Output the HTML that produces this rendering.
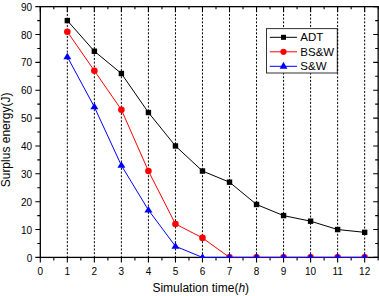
<!DOCTYPE html>
<html><head><meta charset="utf-8"><style>
html,body{margin:0;padding:0;background:#fff;width:379px;height:296px;overflow:hidden}
svg{display:block;font-family:"Liberation Sans",sans-serif}
</style></head><body>
<svg width="379" height="296" viewBox="0 0 379 296">
<rect width="379" height="296" fill="#fff"/>
<line x1="67.33" y1="6.66" x2="67.33" y2="257.40" stroke="#000" stroke-width="1" stroke-dasharray="2 1.664"/>
<line x1="94.36" y1="6.66" x2="94.36" y2="257.40" stroke="#000" stroke-width="1" stroke-dasharray="2 1.664"/>
<line x1="121.39" y1="6.66" x2="121.39" y2="257.40" stroke="#000" stroke-width="1" stroke-dasharray="2 1.664"/>
<line x1="148.42" y1="6.66" x2="148.42" y2="257.40" stroke="#000" stroke-width="1" stroke-dasharray="2 1.664"/>
<line x1="175.45" y1="6.66" x2="175.45" y2="257.40" stroke="#000" stroke-width="1" stroke-dasharray="2 1.664"/>
<line x1="202.48" y1="6.66" x2="202.48" y2="257.40" stroke="#000" stroke-width="1" stroke-dasharray="2 1.664"/>
<line x1="229.51" y1="6.66" x2="229.51" y2="257.40" stroke="#000" stroke-width="1" stroke-dasharray="2 1.664"/>
<line x1="256.54" y1="6.66" x2="256.54" y2="257.40" stroke="#000" stroke-width="1" stroke-dasharray="2 1.664"/>
<line x1="283.57" y1="6.66" x2="283.57" y2="257.40" stroke="#000" stroke-width="1" stroke-dasharray="2 1.664"/>
<line x1="310.60" y1="6.66" x2="310.60" y2="257.40" stroke="#000" stroke-width="1" stroke-dasharray="2 1.664"/>
<line x1="337.63" y1="6.66" x2="337.63" y2="257.40" stroke="#000" stroke-width="1" stroke-dasharray="2 1.664"/>
<line x1="364.66" y1="6.66" x2="364.66" y2="257.40" stroke="#000" stroke-width="1" stroke-dasharray="2 1.664"/>
<rect x="40.30" y="6.66" width="337.88" height="250.74" fill="none" stroke="#000" stroke-width="1.3"/>
<path d="M40.30 257.40v5M40.30 6.66v5M67.33 257.40v5M67.33 6.66v5M94.36 257.40v5M94.36 6.66v5M121.39 257.40v5M121.39 6.66v5M148.42 257.40v5M148.42 6.66v5M175.45 257.40v5M175.45 6.66v5M202.48 257.40v5M202.48 6.66v5M229.51 257.40v5M229.51 6.66v5M256.54 257.40v5M256.54 6.66v5M283.57 257.40v5M283.57 6.66v5M310.60 257.40v5M310.60 6.66v5M337.63 257.40v5M337.63 6.66v5M364.66 257.40v5M364.66 6.66v5M53.81 257.40v3M53.81 6.66v2.7M80.84 257.40v3M80.84 6.66v2.7M107.88 257.40v3M107.88 6.66v2.7M134.91 257.40v3M134.91 6.66v2.7M161.94 257.40v3M161.94 6.66v2.7M188.97 257.40v3M188.97 6.66v2.7M216.00 257.40v3M216.00 6.66v2.7M243.03 257.40v3M243.03 6.66v2.7M270.06 257.40v3M270.06 6.66v2.7M297.09 257.40v3M297.09 6.66v2.7M324.12 257.40v3M324.12 6.66v2.7M351.15 257.40v3M351.15 6.66v2.7M378.18 257.40v3M378.18 6.66v2.7M40.30 257.40h-5M378.18 257.40h-5M40.30 229.54h-5M378.18 229.54h-5M40.30 201.68h-5M378.18 201.68h-5M40.30 173.82h-5M378.18 173.82h-5M40.30 145.96h-5M378.18 145.96h-5M40.30 118.10h-5M378.18 118.10h-5M40.30 90.24h-5M378.18 90.24h-5M40.30 62.38h-5M378.18 62.38h-5M40.30 34.52h-5M378.18 34.52h-5M40.30 6.66h-5M378.18 6.66h-5M40.30 243.47h-3M378.18 243.47h-3M40.30 215.61h-3M378.18 215.61h-3M40.30 187.75h-3M378.18 187.75h-3M40.30 159.89h-3M378.18 159.89h-3M40.30 132.03h-3M378.18 132.03h-3M40.30 104.17h-3M378.18 104.17h-3M40.30 76.31h-3M378.18 76.31h-3M40.30 48.45h-3M378.18 48.45h-3M40.30 20.59h-3M378.18 20.59h-3" fill="none" stroke="#000" stroke-width="1.1"/>
<clipPath id="c"><rect x="40.30" y="6.66" width="337.88" height="251.34"/></clipPath>
<g clip-path="url(#c)">
<polyline points="67.33,20.59 94.36,51.24 121.39,73.52 148.42,112.53 175.45,145.96 202.48,171.03 229.51,182.18 256.54,204.47 283.57,215.61 310.60,221.18 337.63,229.54 364.66,232.33" fill="none" stroke="#000" stroke-width="1"/>
<rect x="64.63" y="17.89" width="5.4" height="5.4" fill="#000"/>
<rect x="91.66" y="48.54" width="5.4" height="5.4" fill="#000"/>
<rect x="118.69" y="70.82" width="5.4" height="5.4" fill="#000"/>
<rect x="145.72" y="109.83" width="5.4" height="5.4" fill="#000"/>
<rect x="172.75" y="143.26" width="5.4" height="5.4" fill="#000"/>
<rect x="199.78" y="168.33" width="5.4" height="5.4" fill="#000"/>
<rect x="226.81" y="179.48" width="5.4" height="5.4" fill="#000"/>
<rect x="253.84" y="201.77" width="5.4" height="5.4" fill="#000"/>
<rect x="280.87" y="212.91" width="5.4" height="5.4" fill="#000"/>
<rect x="307.90" y="218.48" width="5.4" height="5.4" fill="#000"/>
<rect x="334.93" y="226.84" width="5.4" height="5.4" fill="#000"/>
<rect x="361.96" y="229.63" width="5.4" height="5.4" fill="#000"/>
<polyline points="67.33,31.73 94.36,70.74 121.39,109.74 148.42,171.03 175.45,223.97 202.48,237.90 229.51,257.40 256.54,257.40 283.57,257.40 310.60,257.40 337.63,257.40 364.66,257.40" fill="none" stroke="#f00" stroke-width="1"/>
<circle cx="67.33" cy="31.73" r="3.3" fill="#f00"/>
<circle cx="94.36" cy="70.74" r="3.3" fill="#f00"/>
<circle cx="121.39" cy="109.74" r="3.3" fill="#f00"/>
<circle cx="148.42" cy="171.03" r="3.3" fill="#f00"/>
<circle cx="175.45" cy="223.97" r="3.3" fill="#f00"/>
<circle cx="202.48" cy="237.90" r="3.3" fill="#f00"/>
<circle cx="229.51" cy="257.40" r="3.3" fill="#f00"/>
<circle cx="256.54" cy="257.40" r="3.3" fill="#f00"/>
<circle cx="283.57" cy="257.40" r="3.3" fill="#f00"/>
<circle cx="310.60" cy="257.40" r="3.3" fill="#f00"/>
<circle cx="337.63" cy="257.40" r="3.3" fill="#f00"/>
<circle cx="364.66" cy="257.40" r="3.3" fill="#f00"/>
<polyline points="67.33,56.81 94.36,106.96 121.39,165.46 148.42,210.04 175.45,246.26 202.48,257.40 229.51,257.40 256.54,257.40 283.57,257.40 310.60,257.40 337.63,257.40 364.66,257.40" fill="none" stroke="#00f" stroke-width="1"/>
<path d="M67.33 52.71L71.33 59.21L63.33 59.21Z" fill="#00f"/>
<path d="M94.36 102.86L98.36 109.36L90.36 109.36Z" fill="#00f"/>
<path d="M121.39 161.36L125.39 167.86L117.39 167.86Z" fill="#00f"/>
<path d="M148.42 205.94L152.42 212.44L144.42 212.44Z" fill="#00f"/>
<path d="M175.45 242.16L179.45 248.66L171.45 248.66Z" fill="#00f"/>
<path d="M202.48 253.30L206.48 259.80L198.48 259.80Z" fill="#00f"/>
<path d="M229.51 253.30L233.51 259.80L225.51 259.80Z" fill="#00f"/>
<path d="M256.54 253.30L260.54 259.80L252.54 259.80Z" fill="#00f"/>
<path d="M283.57 253.30L287.57 259.80L279.57 259.80Z" fill="#00f"/>
<path d="M310.60 253.30L314.60 259.80L306.60 259.80Z" fill="#00f"/>
<path d="M337.63 253.30L341.63 259.80L333.63 259.80Z" fill="#00f"/>
<path d="M364.66 253.30L368.66 259.80L360.66 259.80Z" fill="#00f"/>
</g>
<rect x="266.5" y="28.6" width="70.80" height="44.40" fill="#fff" stroke="#333" stroke-width="1"/>
<line x1="269.8" y1="37.3" x2="297" y2="37.3" stroke="#000" stroke-width="1"/>
<rect x="281.00" y="34.80" width="5" height="5" fill="#000"/>
<text x="300.3" y="41.2" font-size="11.5" fill="#000">ADT</text>
<line x1="269.8" y1="51.8" x2="297" y2="51.8" stroke="#f00" stroke-width="1"/>
<circle cx="283.50" cy="51.80" r="3.1" fill="#f00"/>
<text x="300.3" y="55.7" font-size="11.5" fill="#000">BS&amp;W</text>
<line x1="269.8" y1="66.3" x2="297" y2="66.3" stroke="#00f" stroke-width="1"/>
<path d="M283.50 61.70L287.40 68.70L279.60 68.70Z" fill="#00f"/>
<text x="300.3" y="70.1" font-size="11.5" fill="#000">S&amp;W</text>
<line x1="337.63" y1="28.60" x2="337.63" y2="73.00" stroke="#000" stroke-width="1" stroke-dasharray="2 1.664"/>
<text x="40.30" y="274.9" font-size="10" text-anchor="middle">0</text>
<text x="67.33" y="274.9" font-size="10" text-anchor="middle">1</text>
<text x="94.36" y="274.9" font-size="10" text-anchor="middle">2</text>
<text x="121.39" y="274.9" font-size="10" text-anchor="middle">3</text>
<text x="148.42" y="274.9" font-size="10" text-anchor="middle">4</text>
<text x="175.45" y="274.9" font-size="10" text-anchor="middle">5</text>
<text x="202.48" y="274.9" font-size="10" text-anchor="middle">6</text>
<text x="229.51" y="274.9" font-size="10" text-anchor="middle">7</text>
<text x="256.54" y="274.9" font-size="10" text-anchor="middle">8</text>
<text x="283.57" y="274.9" font-size="10" text-anchor="middle">9</text>
<text x="310.60" y="274.9" font-size="10" text-anchor="middle">10</text>
<text x="337.63" y="274.9" font-size="10" text-anchor="middle">11</text>
<text x="364.66" y="274.9" font-size="10" text-anchor="middle">12</text>
<text x="32.2" y="261.50" font-size="10" text-anchor="end">0</text>
<text x="32.2" y="233.64" font-size="10" text-anchor="end">10</text>
<text x="32.2" y="205.78" font-size="10" text-anchor="end">20</text>
<text x="32.2" y="177.92" font-size="10" text-anchor="end">30</text>
<text x="32.2" y="150.06" font-size="10" text-anchor="end">40</text>
<text x="32.2" y="122.20" font-size="10" text-anchor="end">50</text>
<text x="32.2" y="94.34" font-size="10" text-anchor="end">60</text>
<text x="32.2" y="66.48" font-size="10" text-anchor="end">70</text>
<text x="32.2" y="38.62" font-size="10" text-anchor="end">80</text>
<text x="32.2" y="10.76" font-size="10" text-anchor="end">90</text>
<text x="152.4" y="292.3" font-size="12">Simulation time(<tspan font-style="italic">h</tspan>)</text>
<text transform="translate(9.8,187.3) rotate(-90)" x="0" y="0" font-size="12">Surplus energy(J)</text>
</svg>
</body></html>
